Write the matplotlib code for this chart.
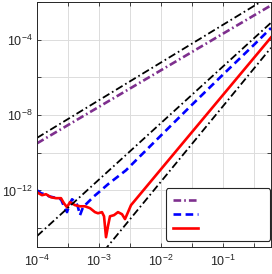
import numpy as np
import matplotlib.pyplot as plt
from matplotlib.ticker import FixedLocator, NullFormatter

plt.rcParams['font.family'] = ['Liberation Sans', 'DejaVu Sans']
plt.rcParams['mathtext.fontset'] = 'custom'
plt.rcParams['mathtext.rm'] = 'Liberation Sans'
plt.rcParams['mathtext.it'] = 'Liberation Sans:italic'
plt.rcParams['lines.scale_dashes'] = False

# log10 of step size h and of the error
purple_lh = [-4.0, -3.0, -2.0, -1.0, -0.226]
purple_le = [-9.50, -7.56, -5.62, -3.68, -2.18]

blue_lh = [-4.000, -3.935, -3.871, -3.806, -3.742, -3.677, -3.613, -3.565, -3.516, -3.468,
           -3.435, -3.371, -3.339, -3.306, -3.258, -3.210, -3.145, -3.081, -2.984, -2.855,
           -2.710, -2.565, -2.419, -2.0, -1.5, -1.0, -0.5, -0.226]
blue_le = [-11.99, -12.15, -12.20, -12.31, -12.36, -12.41, -12.47, -12.84, -13.15, -12.68,
           -12.47, -12.62, -12.89, -13.31, -12.89, -12.73, -12.52, -12.31, -12.04, -11.67,
           -11.30, -10.93, -10.45, -9.08, -7.45, -5.85, -4.27, -3.38]

red_lh = [-4.000, -3.919, -3.855, -3.774, -3.694, -3.613, -3.565, -3.516, -3.468, -3.387,
          -3.306, -3.226, -3.145, -3.065, -3.016, -2.952, -2.919, -2.887, -2.855, -2.823,
          -2.758, -2.694, -2.629, -2.581, -2.532, -2.484, -2.0, -1.5, -1.0, -0.5, -0.226]
red_le = [-12.10, -12.25, -12.20, -12.36, -12.41, -12.41, -12.68, -12.89, -12.62, -12.78,
          -12.84, -12.84, -12.94, -13.15, -13.21, -13.15, -13.37, -14.48, -13.89, -13.37,
          -13.31, -13.15, -13.26, -13.52, -13.15, -12.78, -10.87, -8.90, -6.93, -4.96, -3.88]

# reference slopes (order 2, 3, 4)
ref_lh = [-4.0, -0.226]
ref2_le = [-9.21, -1.66]
ref3_le = [-14.42, -3.10]
ref4_le = [-19.53, -4.43]

def p10(v):
    return 10.0 ** np.array(v)

fig = plt.figure(figsize=(2.72, 2.74), dpi=100)
ax = fig.add_axes([37/272, 1 - 247/274, 234/272, 245/274])

dashdot_thick = (0, (5.5, 2.2, 1.2, 2.2))
dashdot_thin = (0, (5.5, 2.2, 1.2, 2.2))

l1, = ax.plot(p10(purple_lh), p10(purple_le), color='#7E2F8E', lw=1.9, linestyle=dashdot_thick)
l2, = ax.plot(p10(blue_lh), p10(blue_le), color='#0000FF', lw=1.9, linestyle=(0, (5.5, 3.2)))
l3, = ax.plot(p10(red_lh), p10(red_le), color='#FF0000', lw=1.9)

for ref in (ref2_le, ref3_le, ref4_le):
    ax.plot(p10(ref_lh), p10(ref), color='black', lw=1.3, linestyle=dashdot_thin)

ax.set_xscale('log')
ax.set_yscale('log')
ax.set_xlim(1e-4, 10 ** -0.226)
ax.set_ylim(1e-15, 1e-2)

ax.xaxis.set_major_locator(FixedLocator([1e-4, 1e-3, 1e-2, 1e-1]))
ax.xaxis.set_minor_locator(FixedLocator(10.0 ** np.array([-3.5, -2.5, -1.5, -0.5])))
ax.yaxis.set_major_locator(FixedLocator([1e-12, 1e-8, 1e-4]))
ax.yaxis.set_minor_locator(FixedLocator([1e-14, 1e-10, 1e-6, 1e-2]))
ax.xaxis.set_minor_formatter(NullFormatter())
ax.yaxis.set_minor_formatter(NullFormatter())
ax.set_xticklabels(['$10^{-4}$', '$10^{-3}$', '$10^{-2}$', '$10^{-1}$'])
ax.set_yticklabels(['$10^{-12}$', '$10^{-8}$', '$10^{-4}$'])

ax.grid(True, which='both', color='#dcdcdc', lw=0.7)
ax.set_axisbelow(True)
ax.tick_params(which='both', direction='in', top=True, right=True, length=2.8,
               width=0.6, color='#262626', labelsize=9, labelcolor='#262626')
ax.tick_params(axis='x', pad=5)
ax.tick_params(axis='y', pad=3)
for s in ax.spines.values():
    s.set_color('#262626')
    s.set_linewidth(0.7)

leg = ax.legend([l1, l2, l3], [' ', ' ', ' '], loc='lower left',
                bbox_to_anchor=(0.551, 0.026, 0.445, 0.2), mode='expand',
                fontsize=8, handlelength=2.2, labelspacing=0.35, borderpad=0.65,
                borderaxespad=0, fancybox=True, framealpha=1)
leg.get_frame().set_edgecolor('#262626')
leg.get_frame().set_linewidth(0.8)

fig.savefig('out.png', dpi=100)
